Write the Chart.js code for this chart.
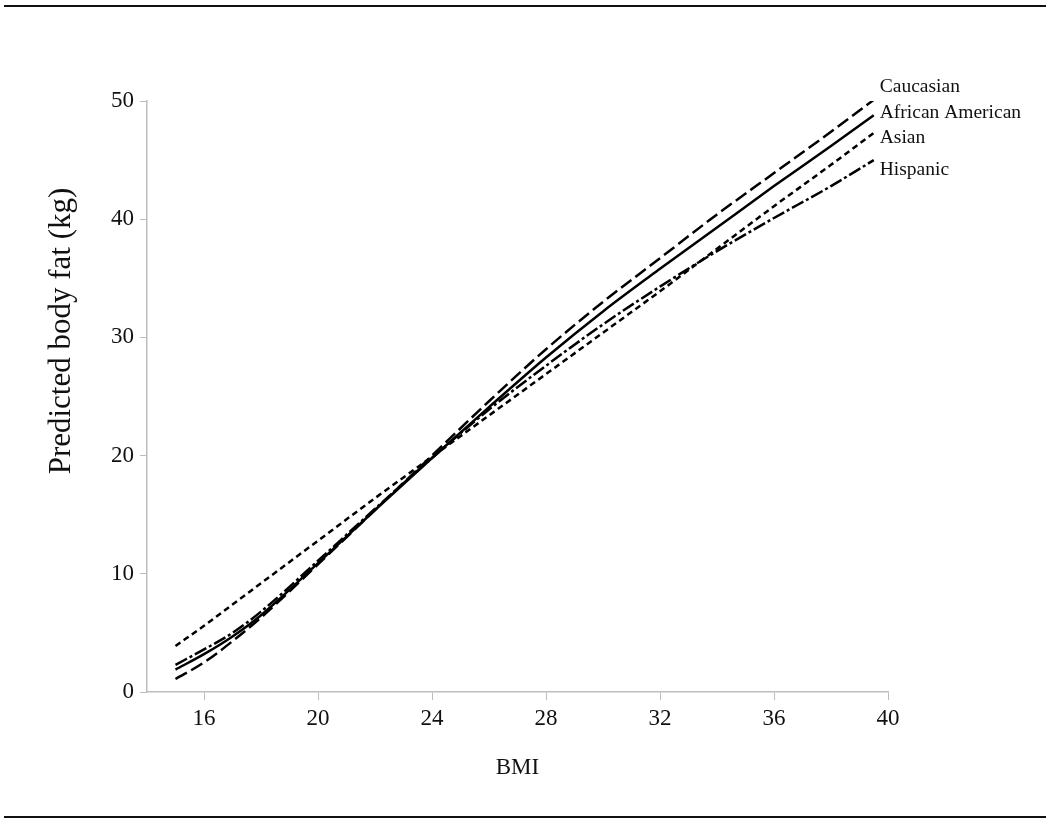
<!DOCTYPE html>
<html>
<head>
<meta charset="utf-8">
<script src="https://cdn.jsdelivr.net/npm/chart.js@4.4.1/dist/chart.umd.min.js"></script>
<style>
  html, body { margin: 0; padding: 0; background: #fff; }
  #wrap { position: relative; width: 1050px; height: 828px; }
  .rule { position: absolute; left: 4px; width: 1042px; height: 2px; background: #111; }
  canvas { position: absolute; left: 0; top: 0; }
</style>
</head>
<body>
<div id="wrap">
  <div class="rule" style="top:5px"></div>
  <canvas id="chart" width="1050" height="828"></canvas>
  <div class="rule" style="top:816px"></div>
</div>
<script>
// BMI values the curves were read at
const bmi = [15, 16, 17, 18, 20, 22, 24, 26, 28, 30, 32, 34, 36, 38, 39.5];

// predicted body fat (kg)
const caucasian = [1.1, 2.5, 4.3, 6.3, 10.8, 15.4, 20.0, 24.6, 29.0, 33.0, 36.7, 40.4, 43.9, 47.4, 50.1];
const africanAmerican = [1.9, 3.2, 4.7, 6.5, 10.9, 15.4, 19.8, 24.1, 28.3, 32.2, 35.8, 39.3, 42.8, 46.2, 48.8];
const asian = [3.9, 5.6, 7.4, 9.2, 12.8, 16.4, 19.9, 23.4, 26.9, 30.4, 33.9, 37.5, 41.1, 44.6, 47.3];
const hispanic = [2.3, 3.6, 5.0, 6.8, 11.1, 15.5, 19.8, 23.9, 27.6, 31.1, 34.3, 37.3, 40.1, 42.8, 45.0];

const groups = ["Caucasian", "African American", "Asian", "Hispanic"];
const xTicks = [16, 20, 24, 28, 32, 36, 40];
const yTicks = [0, 10, 20, 30, 40, 50];

const serif = "'Liberation Serif', 'Times New Roman', serif";
const axisGray = "#bdbdbd";

function toPoints(vals) {
  return bmi.map((b, i) => ({ x: b, y: vals[i] }));
}

// line looks per group
const dashes = [[13, 5], [], [6, 4], [13, 3, 3, 3]];
const labelNudge = [-13, -2, 5, 10];

// end-of-line labels
const endLabels = {
  id: "endLabels",
  afterDatasetsDraw(chart) {
    const ctx = chart.ctx;
    ctx.save();
    ctx.font = "19.5px " + serif;
    ctx.fillStyle = "#111";
    ctx.textBaseline = "middle";
    ctx.textAlign = "left";
    chart.data.datasets.forEach((ds, i) => {
      const pts = chart.getDatasetMeta(i).data;
      const last = pts[pts.length - 1];
      ctx.fillText(ds.label, last.x + 6, last.y + labelNudge[i]);
    });
    ctx.restore();
  }
};

// y title sits above the plot centre in the original
const yTitle = {
  id: "yTitle",
  afterDraw(chart) {
    const ctx = chart.ctx;
    ctx.save();
    ctx.translate(62, 331);
    ctx.rotate(-Math.PI / 2);
    ctx.font = "31px " + serif;
    ctx.fillStyle = "#111";
    ctx.textAlign = "center";
    ctx.textBaseline = "middle";
    ctx.fillText("Predicted body fat (kg)", 0, 0);
    ctx.restore();
  }
};

const series = [caucasian, africanAmerican, asian, hispanic];

new Chart(document.getElementById("chart"), {
  type: "line",
  data: {
    datasets: series.map((vals, i) => ({
      label: groups[i],
      data: toPoints(vals),
      borderColor: "#000",
      borderWidth: 2.5,
      borderDash: dashes[i],
      pointRadius: 0,
      fill: false,
      cubicInterpolationMode: "monotone"
    }))
  },
  options: {
    responsive: false,
    animation: false,
    layout: { padding: { left: 0, top: 101, right: 162, bottom: 0 } },
    plugins: { legend: { display: false }, tooltip: { enabled: false } },
    scales: {
      x: {
        type: "linear",
        min: 14,
        max: 40,
        afterBuildTicks: (scale) => { scale.ticks = xTicks.map((v) => ({ value: v })); },
        afterFit: (scale) => { scale.height = 136; },
        border: { color: axisGray, width: 1.5 },
        grid: { drawOnChartArea: false, drawTicks: true, tickLength: 8, color: axisGray },
        ticks: { font: { family: serif, size: 23 }, color: "#111", padding: 5, maxRotation: 0 },
        title: {
          display: true,
          text: "BMI",
          font: { family: serif, size: 23 },
          color: "#111",
          padding: { top: 0, bottom: 46 }
        }
      },
      y: {
        min: 0,
        max: 50,
        afterBuildTicks: (scale) => { scale.ticks = yTicks.map((v) => ({ value: v })); },
        afterFit: (scale) => { scale.width = 147; },
        border: { color: axisGray, width: 1.5 },
        grid: { drawOnChartArea: false, drawTicks: true, tickLength: 7, color: axisGray },
        ticks: { font: { family: serif, size: 23 }, color: "#111", padding: 6 }
      }
    }
  },
  plugins: [endLabels, yTitle]
});
</script>
</body>
</html>
